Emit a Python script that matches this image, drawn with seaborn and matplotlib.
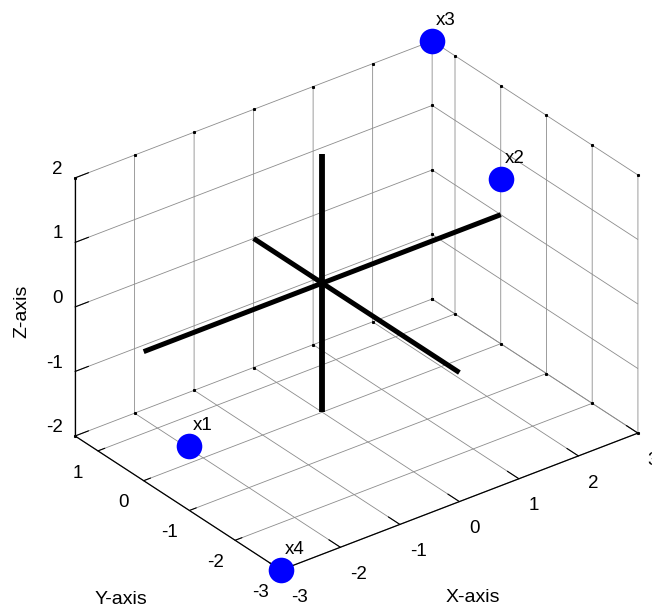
import matplotlib
matplotlib.use('Agg')
import matplotlib.pyplot as plt
import seaborn as sns

# tick values
x_ticks = [-3, -2, -1, 0, 1, 2, 3]
y_ticks = [-3, -2, -1, 0, 1]
z_ticks = [-2, -1, 0, 1, 2]

# axis limits
x_lim = (-3, 3)
y_lim = (-3, 1.5)
z_lim = (-2, 2)

# the four points
pt_names = ['x1', 'x2', 'x3', 'x4']
pt_x = [-3, 3, 3, -3]
pt_y = [-1, 0, 1.5, -3]
pt_z = [-1, 0.55, 2, -2]

sns.set_style('white', {'xtick.bottom': True, 'ytick.left': True, 'text.color': 'black',
                        'xtick.color': 'black', 'ytick.color': 'black', 'axes.labelcolor': 'black'})
plt.rcParams['font.family'] = ['Liberation Sans', 'DejaVu Sans']
plt.rcParams['font.size'] = 13.5
plt.rcParams['axes.unicode_minus'] = False
blue = sns.color_palette(['#0000ff'])[0]
grey = '#8c8c8c'

fig = plt.figure(figsize=(6.52, 6.06), dpi=100)
ax = fig.add_axes([39 / 652, -17 / 606, 618.3 / 652, 618.3 / 606], projection='3d', proj_type='ortho',
                  computed_zorder=False)
ax.patch.set_alpha(0)
ax.view_init(elev=30, azim=-127.5)
ax.set_box_aspect((450, 338, 298))
ax.set_xlim(*x_lim, view_margin=0)
ax.set_ylim(*y_lim, view_margin=0)
ax.set_zlim(*z_lim, view_margin=0)
ax.set_xticks(x_ticks)
ax.set_yticks(y_ticks)
ax.set_zticks(z_ticks)

tick_len = {ax.xaxis: 0.7, ax.yaxis: 0.24, ax.zaxis: 0.47}
for axis in [ax.xaxis, ax.yaxis, ax.zaxis]:
    axis.set_pane_color((1, 1, 1, 0))
    axis.pane.set_edgecolor(grey)
    axis.pane.set_linewidth(0.6)
    axis.line.set_color('black')
    axis.line.set_linewidth(0.9)
    axis._axinfo['grid'].update(color=grey, linewidth=0.6, linestyle='-')
    axis._axinfo['tick']['inward_factor'] = 0
    axis._axinfo['tick']['outward_factor'] = tick_len[axis]
    axis._axinfo['tick']['linewidth'] = {True: 0.8, False: 0.8}

ax.zaxis.set_ticks_position('upper')
ax.zaxis.set_label_position('upper')
ax.tick_params(axis='x', pad=3, labelsize=13.5)
ax.tick_params(axis='y', pad=5, labelsize=13.5)
ax.tick_params(axis='z', pad=-3, labelsize=13.5)
for t in ax.get_xticklabels():
    t.set_ha('left')
for t in ax.get_yticklabels():
    t.set_va('center')
for t in ax.get_zticklabels():
    t.set_va('bottom')
    t.set_ha('right')

# axis titles stay horizontal, so they are placed on the figure
ax.text2D(473 / 652, 1 - 598 / 606, 'X-axis', transform=fig.transFigure, ha='center', va='center', fontsize=14)
ax.text2D(121 / 652, 1 - 599 / 606, 'Y-axis', transform=fig.transFigure, ha='center', va='center', fontsize=14)
ax.text2D(22 / 652, 1 - 311 / 606, 'Z-axis', transform=fig.transFigure, ha='center', va='center', fontsize=14,
          rotation=90)

# small black ticks on the far edges
for x in x_ticks:
    ax.plot([x, x], [y_lim[1], y_lim[1]], [z_lim[0], z_lim[1]], ls='none', marker='s', ms=1.2, color='black', zorder=2)
for y in y_ticks:
    ax.plot([x_lim[1], x_lim[1]], [y, y], [z_lim[0], z_lim[1]], ls='none', marker='s', ms=1.2, color='black', zorder=2)
for z in z_ticks:
    ax.plot([x_lim[1]], [y_lim[1]], [z], ls='none', marker='s', ms=1.2, color='black', zorder=2)

# cross through the origin
ax.plot(x_lim, [0, 0], [0, 0], color='black', lw=3.6, solid_capstyle='butt', zorder=3)
ax.plot([0, 0], y_lim, [0, 0], color='black', lw=3.6, solid_capstyle='butt', zorder=3)
ax.plot([0, 0], [0, 0], z_lim, color='black', lw=4.2, solid_capstyle='butt', zorder=3)

ax.scatter(pt_x, pt_y, pt_z, s=340, color=blue, depthshade=False, linewidths=0, zorder=4, clip_on=False)
for name, x, y, z in zip(pt_names, pt_x, pt_y, pt_z):
    ax.text(x + 0.06, y, z + 0.16, name, ha='left', va='bottom', fontsize=13.5, zorder=5, clip_on=False)

fig.savefig('out.png', dpi=100)
